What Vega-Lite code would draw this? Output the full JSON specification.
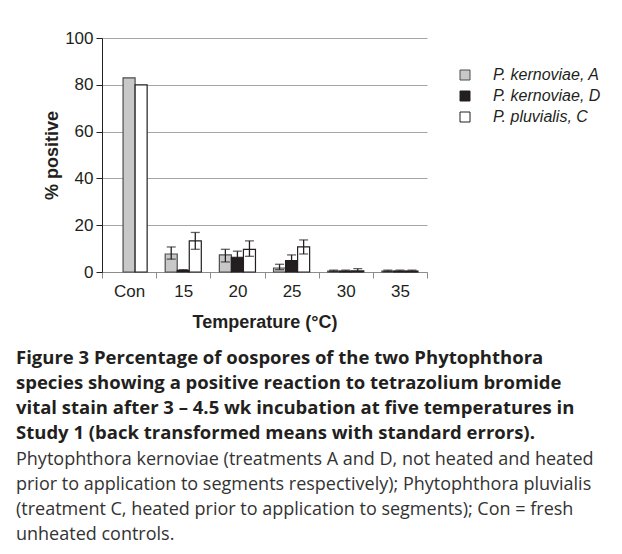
{
  "$schema": "https://vega.github.io/schema/vega-lite/v6.json",
  "width": 325,
  "height": 234,
  "autosize": "none",
  "padding": {"left": 102, "top": 38, "right": 195, "bottom": 282},
  "background": "white",
  "config": {"font": "Liberation Sans", "view": {"stroke": null}},
  "title": {
    "text": ["Figure 3 Percentage of oospores of the two Phytophthora", "species showing a positive reaction to tetrazolium bromide", "vital stain after 3 – 4.5 wk incubation at five temperatures in", "Study 1 (back transformed means with standard errors)."],
    "subtitle": ["Phytophthora kernoviae (treatments A and D, not heated and heated", "prior to application to segments respectively); Phytophthora pluvialis", "(treatment C, heated prior to application to segments); Con = fresh", "unheated controls."],
    "orient": "bottom",
    "anchor": "start",
    "frame": "group",
    "dx": -86,
    "offset": 18,
    "font": "Open Sans",
    "fontSize": 18.5,
    "fontWeight": "bold",
    "color": "#231f20",
    "lineHeight": 25,
    "subtitleFont": "Open Sans",
    "subtitleFontSize": 18,
    "subtitleFontWeight": "normal",
    "subtitleColor": "#333333",
    "subtitleLineHeight": 25,
    "subtitlePadding": 8
  },
  "data": {"values": [
    {"temp": "Con", "series": "P. kernoviae, A", "slot": "D", "value": 83},
    {"temp": "Con", "series": "P. pluvialis, C", "slot": "C", "value": 80},
    {"temp": "15", "series": "P. kernoviae, A", "slot": "A", "value": 7.7, "lo": 5.5, "hi": 10.7},
    {"temp": "15", "series": "P. kernoviae, D", "slot": "D", "value": 0.7, "lo": 0.4, "hi": 1.0},
    {"temp": "15", "series": "P. pluvialis, C", "slot": "C", "value": 13.3, "lo": 9.7, "hi": 16.9},
    {"temp": "20", "series": "P. kernoviae, A", "slot": "A", "value": 7.3, "lo": 4.3, "hi": 9.7},
    {"temp": "20", "series": "P. kernoviae, D", "slot": "D", "value": 6.3, "lo": 4.0, "hi": 8.9},
    {"temp": "20", "series": "P. pluvialis, C", "slot": "C", "value": 9.7, "lo": 6.7, "hi": 13.3},
    {"temp": "25", "series": "P. kernoviae, A", "slot": "A", "value": 1.7, "lo": 1.0, "hi": 3.3},
    {"temp": "25", "series": "P. kernoviae, D", "slot": "D", "value": 4.9, "lo": 3.0, "hi": 7.3},
    {"temp": "25", "series": "P. pluvialis, C", "slot": "C", "value": 10.7, "lo": 7.7, "hi": 13.7},
    {"temp": "30", "series": "P. kernoviae, A", "slot": "A", "value": 0.4, "lo": 0.2, "hi": 0.8},
    {"temp": "30", "series": "P. kernoviae, D", "slot": "D", "value": 0.4, "lo": 0.2, "hi": 0.8},
    {"temp": "30", "series": "P. pluvialis, C", "slot": "C", "value": 0.5, "lo": 0.2, "hi": 1.4},
    {"temp": "35", "series": "P. kernoviae, A", "slot": "A", "value": 0.4, "lo": 0.2, "hi": 0.8},
    {"temp": "35", "series": "P. kernoviae, D", "slot": "D", "value": 0.4, "lo": 0.2, "hi": 0.8},
    {"temp": "35", "series": "P. pluvialis, C", "slot": "C", "value": 0.4, "lo": 0.2, "hi": 0.8}
  ]},
  "encoding": {
    "x": {
      "field": "temp", "type": "nominal", "sort": ["Con", "15", "20", "25", "30", "35"],
      "scale": {"paddingInner": 0, "paddingOuter": 0},
      "axis": {
        "title": "Temperature (°C)", "titleFontSize": 18, "titleFontWeight": "bold", "titleColor": "#231f20", "titlePadding": 14,
        "labelAngle": 0, "labelFontSize": 17, "labelColor": "#231f20", "labelPadding": 5,
        "tickBand": "extent", "tickSize": 6, "tickColor": "#8c8c8c", "domainColor": "#8c8c8c", "grid": false
      }
    },
    "xOffset": {"field": "slot", "type": "nominal", "sort": ["A", "D", "C"], "scale": {"paddingInner": 0, "paddingOuter": 0.75}}
  },
  "layer": [
    {
      "mark": {"type": "bar", "strokeWidth": 1.2},
      "encoding": {
        "y": {
          "field": "value", "type": "quantitative", "scale": {"domain": [0, 100], "nice": false},
          "axis": {
            "title": "% positive", "titleFontSize": 18, "titleFontWeight": "bold", "titleColor": "#231f20", "titlePadding": 3,
            "values": [0, 20, 40, 60, 80, 100], "labelFontSize": 17, "labelColor": "#231f20", "labelPadding": 3,
            "tickSize": 6, "tickColor": "#231f20", "domainColor": "#231f20",
            "grid": true, "gridColor": "#a6a6a6", "gridWidth": 1
          }
        },
        "fill": {
          "field": "series", "type": "nominal",
          "scale": {"domain": ["P. kernoviae, A", "P. kernoviae, D", "P. pluvialis, C"], "range": ["#c8c8c8", "#231f20", "#ffffff"]},
          "legend": {
            "title": null, "orient": "none", "legendX": 355, "legendY": 29, "padding": 0,
            "symbolType": "square", "symbolSize": 100, "symbolStrokeWidth": 1,
            "labelFontSize": 16, "labelFontStyle": "italic", "labelColor": "#231f20", "labelOffset": 20, "rowPadding": 5
          }
        },
        "stroke": {
          "field": "series", "type": "nominal",
          "scale": {"domain": ["P. kernoviae, A", "P. kernoviae, D", "P. pluvialis, C"], "range": ["#4d4d4d", "#231f20", "#231f20"]},
          "legend": {
            "title": null, "orient": "none", "legendX": 355, "legendY": 29, "padding": 0,
            "symbolType": "square", "symbolSize": 100, "symbolStrokeWidth": 1,
            "labelFontSize": 16, "labelFontStyle": "italic", "labelColor": "#231f20", "labelOffset": 20, "rowPadding": 5
          }
        }
      }
    },
    {
      "transform": [{"filter": "isValid(datum.lo)"}],
      "mark": {"type": "rule", "color": "#231f20", "strokeWidth": 1.3},
      "encoding": {
        "y": {"field": "lo", "type": "quantitative"},
        "y2": {"field": "hi"}
      }
    },
    {
      "transform": [{"filter": "isValid(datum.lo)"}],
      "mark": {"type": "tick", "color": "#231f20", "size": 9, "thickness": 1.3},
      "encoding": {
        "y": {"field": "hi", "type": "quantitative"}
      }
    },
    {
      "transform": [{"filter": "isValid(datum.lo)"}],
      "mark": {"type": "tick", "color": "#231f20", "size": 9, "thickness": 1.3},
      "encoding": {
        "y": {"field": "lo", "type": "quantitative"}
      }
    }
  ]
}
